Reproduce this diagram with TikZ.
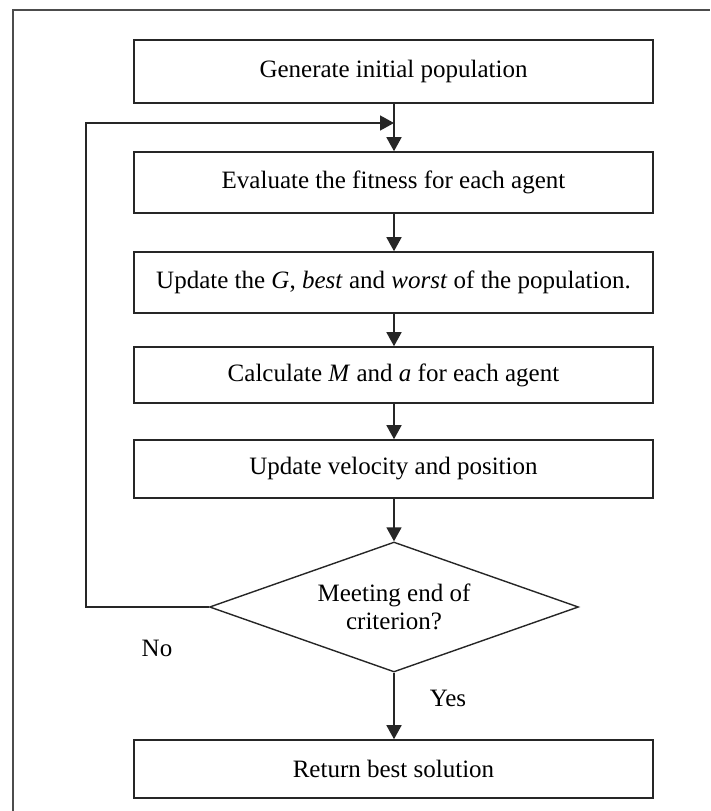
\documentclass[tikz,border=0pt]{standalone}
\usepackage{fontspec}
\setmainfont{Liberation Serif}
\usetikzlibrary{shapes.geometric,arrows.meta}
\tikzset{
  stepbox/.style={draw=black!85, line width=1.6pt, minimum width=519pt, inner sep=0pt, font=\fontsize{25}{28}\selectfont},
  decbox/.style={draw=black!85, line width=1.4pt, diamond, aspect=2.84, minimum width=369pt, minimum height=130pt, inner sep=0pt, align=center, font=\fontsize{25}{28}\selectfont},
  conn/.style={draw=black!85, line width=1.6pt, -{Triangle[length=14pt,width=15pt]}},
  lbl/.style={font=\fontsize{25}{28}\selectfont, inner sep=0pt},
  frame/.style={draw=black!70, line width=1.6pt}
}
\begin{document}
\begin{tikzpicture}[x=1pt,y=-1pt]
\useasboundingbox (0,0) rectangle (710,811);
\coordinate (fb) at (13,811);
\coordinate (ft) at (13,10);
\coordinate (fr) at (710,10);
\draw[frame] (fb) -- (ft) -- (fr);

\node[stepbox, minimum height=63pt] (b1) at (393.5,71.5) {Generate initial population};
\node[stepbox, minimum height=61pt] (b2) at (393.5,182.5) {Evaluate the fitness for each agent};
\node[stepbox, minimum height=61pt] (b3) at (393.5,282.5) {Update the \textit{G}, \textit{best} and \textit{worst} of the population.};
\node[stepbox, minimum height=56pt] (b4) at (393.5,375) {Calculate \textit{M} and \textit{a} for each agent};
\node[stepbox, minimum height=58pt] (b5) at (393.5,469) {Update velocity and position};
\node[decbox] (d) at (394,607) {\raisebox{-4pt}{\parbox{200pt}{\centering Meeting end of\\criterion?}}};
\node[stepbox, minimum height=58pt] (b6) at (393.5,769) {Return best solution};

\node[lbl] (no) at (157,648) {No};
\node[lbl] (yes) at (448,698) {Yes};

\coordinate (c1) at (86,607);
\coordinate (c2) at (86,123);
\coordinate (j) at (394,123);

\draw[conn] (b1.south -| d.north) -- (b2.north -| d.north);
\draw[conn] (b2.south -| d.north) -- (b3.north -| d.north);
\draw[conn] (b3.south -| d.north) -- (b4.north -| d.north);
\draw[conn] (b4.south -| d.north) -- (b5.north -| d.north);
\draw[conn] (b5.south -| d.north) -- (d.north);
\draw[conn] (d.south) -- (b6.north -| d.south);
\draw[conn] (d.west) -- (c1) -- (c2) -- (j);
\end{tikzpicture}
\end{document}
